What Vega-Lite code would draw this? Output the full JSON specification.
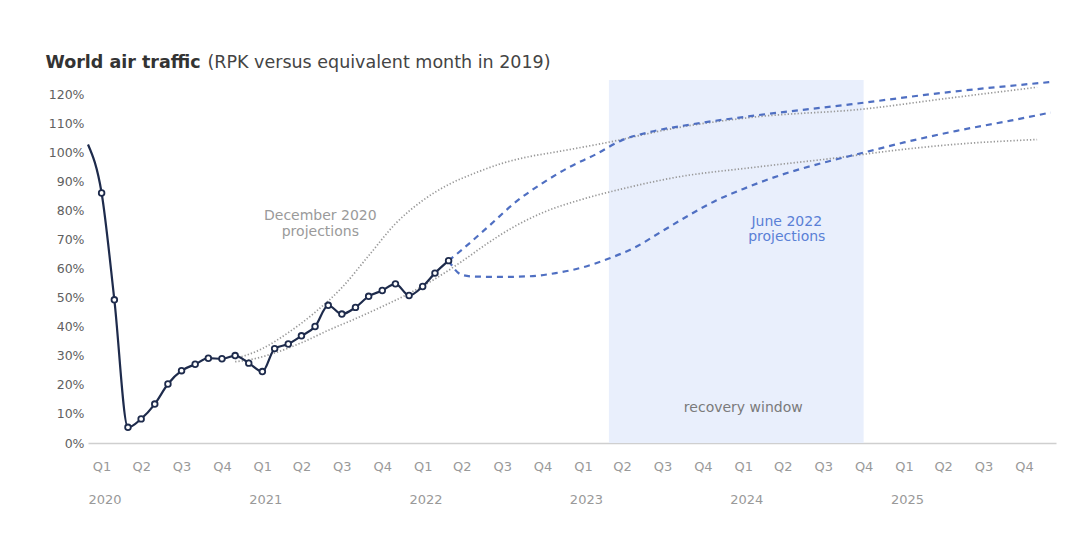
{
  "$schema": "https://vega.github.io/schema/vega-lite/v6.json",
  "width": 968,
  "height": 363,
  "autosize": {"type": "none"},
  "padding": {"left": 88, "top": 80, "right": 25, "bottom": 113},
  "background": "white",
  "config": {"view": {"stroke": null}, "font": "DejaVu Sans"},
  "datasets": {
    "series": [
      {"date": "2020-01-01", "value": 102.8, "series": "Actual"},
      {"date": "2020-02-01", "value": 86.1, "series": "Actual"},
      {"date": "2020-03-01", "value": 49.3, "series": "Actual"},
      {"date": "2020-04-01", "value": 5.4, "series": "Actual"},
      {"date": "2020-05-01", "value": 8.3, "series": "Actual"},
      {"date": "2020-06-01", "value": 13.4, "series": "Actual"},
      {"date": "2020-07-01", "value": 20.3, "series": "Actual"},
      {"date": "2020-08-01", "value": 24.9, "series": "Actual"},
      {"date": "2020-09-01", "value": 27.1, "series": "Actual"},
      {"date": "2020-10-01", "value": 29.2, "series": "Actual"},
      {"date": "2020-11-01", "value": 29.0, "series": "Actual"},
      {"date": "2020-12-01", "value": 30.1, "series": "Actual"},
      {"date": "2021-01-01", "value": 27.5, "series": "Actual"},
      {"date": "2021-02-01", "value": 24.6, "series": "Actual"},
      {"date": "2021-03-01", "value": 32.5, "series": "Actual"},
      {"date": "2021-04-01", "value": 34.1, "series": "Actual"},
      {"date": "2021-05-01", "value": 36.9, "series": "Actual"},
      {"date": "2021-06-01", "value": 40.1, "series": "Actual"},
      {"date": "2021-07-01", "value": 47.4, "series": "Actual"},
      {"date": "2021-08-01", "value": 44.4, "series": "Actual"},
      {"date": "2021-09-01", "value": 46.7, "series": "Actual"},
      {"date": "2021-10-01", "value": 50.5, "series": "Actual"},
      {"date": "2021-11-01", "value": 52.5, "series": "Actual"},
      {"date": "2021-12-01", "value": 54.8, "series": "Actual"},
      {"date": "2022-01-01", "value": 50.8, "series": "Actual"},
      {"date": "2022-02-01", "value": 53.9, "series": "Actual"},
      {"date": "2022-03-01", "value": 58.5, "series": "Actual"},
      {"date": "2022-04-01", "value": 62.8, "series": "Actual"},

      {"date": "2020-12-01", "value": 29.0, "series": "December 2020 high"},
      {"date": "2021-02-01", "value": 32.5, "series": "December 2020 high"},
      {"date": "2021-04-01", "value": 38.0, "series": "December 2020 high"},
      {"date": "2021-06-01", "value": 45.0, "series": "December 2020 high"},
      {"date": "2021-08-01", "value": 53.5, "series": "December 2020 high"},
      {"date": "2021-10-01", "value": 64.5, "series": "December 2020 high"},
      {"date": "2021-12-01", "value": 75.5, "series": "December 2020 high"},
      {"date": "2022-02-01", "value": 83.5, "series": "December 2020 high"},
      {"date": "2022-04-01", "value": 89.0, "series": "December 2020 high"},
      {"date": "2022-06-01", "value": 93.0, "series": "December 2020 high"},
      {"date": "2022-08-01", "value": 96.3, "series": "December 2020 high"},
      {"date": "2022-10-01", "value": 98.6, "series": "December 2020 high"},
      {"date": "2022-12-01", "value": 100.2, "series": "December 2020 high"},
      {"date": "2023-04-01", "value": 103.6, "series": "December 2020 high"},
      {"date": "2023-09-01", "value": 108.5, "series": "December 2020 high"},
      {"date": "2024-03-01", "value": 112.3, "series": "December 2020 high"},
      {"date": "2024-11-01", "value": 115.0, "series": "December 2020 high"},
      {"date": "2025-05-01", "value": 118.5, "series": "December 2020 high"},
      {"date": "2025-12-01", "value": 122.5, "series": "December 2020 high"},

      {"date": "2020-12-01", "value": 28.0, "series": "December 2020 low"},
      {"date": "2021-01-01", "value": 28.6, "series": "December 2020 low"},
      {"date": "2021-03-01", "value": 31.0, "series": "December 2020 low"},
      {"date": "2021-05-01", "value": 34.5, "series": "December 2020 low"},
      {"date": "2021-07-01", "value": 38.8, "series": "December 2020 low"},
      {"date": "2021-09-01", "value": 42.8, "series": "December 2020 low"},
      {"date": "2021-11-01", "value": 47.0, "series": "December 2020 low"},
      {"date": "2022-01-01", "value": 51.5, "series": "December 2020 low"},
      {"date": "2022-03-01", "value": 56.5, "series": "December 2020 low"},
      {"date": "2022-05-01", "value": 62.5, "series": "December 2020 low"},
      {"date": "2022-07-01", "value": 69.0, "series": "December 2020 low"},
      {"date": "2022-09-01", "value": 74.8, "series": "December 2020 low"},
      {"date": "2022-11-01", "value": 79.3, "series": "December 2020 low"},
      {"date": "2023-02-01", "value": 84.0, "series": "December 2020 low"},
      {"date": "2023-05-01", "value": 87.5, "series": "December 2020 low"},
      {"date": "2023-09-01", "value": 91.5, "series": "December 2020 low"},
      {"date": "2024-03-01", "value": 95.0, "series": "December 2020 low"},
      {"date": "2024-09-01", "value": 98.2, "series": "December 2020 low"},
      {"date": "2025-01-01", "value": 100.6, "series": "December 2020 low"},
      {"date": "2025-06-01", "value": 102.9, "series": "December 2020 low"},
      {"date": "2025-12-01", "value": 104.5, "series": "December 2020 low"},

      {"date": "2022-04-01", "value": 62.8, "series": "June 2022 high"},
      {"date": "2022-05-01", "value": 66.5, "series": "June 2022 high"},
      {"date": "2022-07-01", "value": 74.6, "series": "June 2022 high"},
      {"date": "2022-09-01", "value": 83.0, "series": "June 2022 high"},
      {"date": "2022-11-01", "value": 89.5, "series": "June 2022 high"},
      {"date": "2023-01-01", "value": 95.0, "series": "June 2022 high"},
      {"date": "2023-03-01", "value": 99.3, "series": "June 2022 high"},
      {"date": "2023-05-01", "value": 104.3, "series": "June 2022 high"},
      {"date": "2023-07-01", "value": 107.0, "series": "June 2022 high"},
      {"date": "2023-10-01", "value": 109.6, "series": "June 2022 high"},
      {"date": "2024-03-01", "value": 112.8, "series": "June 2022 high"},
      {"date": "2024-10-01", "value": 116.6, "series": "June 2022 high"},
      {"date": "2025-05-01", "value": 120.6, "series": "June 2022 high"},
      {"date": "2026-01-01", "value": 124.3, "series": "June 2022 high"},

      {"date": "2022-04-01", "value": 62.8, "series": "June 2022 low"},
      {"date": "2022-05-01", "value": 57.9, "series": "June 2022 low"},
      {"date": "2022-06-01", "value": 57.3, "series": "June 2022 low"},
      {"date": "2022-08-01", "value": 57.2, "series": "June 2022 low"},
      {"date": "2022-10-01", "value": 57.4, "series": "June 2022 low"},
      {"date": "2022-12-01", "value": 58.5, "series": "June 2022 low"},
      {"date": "2023-02-01", "value": 60.5, "series": "June 2022 low"},
      {"date": "2023-04-01", "value": 63.5, "series": "June 2022 low"},
      {"date": "2023-06-01", "value": 67.5, "series": "June 2022 low"},
      {"date": "2023-08-01", "value": 73.0, "series": "June 2022 low"},
      {"date": "2023-10-01", "value": 78.5, "series": "June 2022 low"},
      {"date": "2023-12-01", "value": 83.5, "series": "June 2022 low"},
      {"date": "2024-02-01", "value": 87.5, "series": "June 2022 low"},
      {"date": "2024-05-01", "value": 92.5, "series": "June 2022 low"},
      {"date": "2024-08-01", "value": 96.5, "series": "June 2022 low"},
      {"date": "2024-11-01", "value": 100.0, "series": "June 2022 low"},
      {"date": "2025-02-01", "value": 103.5, "series": "June 2022 low"},
      {"date": "2025-06-01", "value": 107.5, "series": "June 2022 low"},
      {"date": "2025-10-01", "value": 111.0, "series": "June 2022 low"},
      {"date": "2026-01-01", "value": 113.8, "series": "June 2022 low"}
    ],
    "window": [{"start": "2023-04-01", "end": "2024-11-01", "label": "recovery window"}],
    "notes": [
      {"date": "2021-06-13", "value": 78.2, "label": "December 2020\nprojections", "group": "December"},
      {"date": "2024-05-10", "value": 76.2, "label": "June 2022\nprojections", "group": "June"},
      {"date": "2024-02-01", "value": 12.2, "label": "recovery window", "group": "window"}
    ]
  },
  "encoding": {
    "x": {
      "field": "date", "type": "temporal",
      "scale": {"type": "utc", "domain": [{"year": 2020, "month": 1, "date": 1, "utc": true}, {"year": 2026, "month": 1, "date": 13, "utc": true}]},
      "axis": null
    },
    "y": {
      "field": "value", "type": "quantitative",
      "scale": {"domain": [0, 125], "nice": false, "zero": true},
      "axis": {
        "values": [0, 10, 20, 30, 40, 50, 60, 70, 80, 90, 100, 110, 120],
        "labelExpr": "datum.value + '%'",
        "domain": false, "ticks": false, "grid": false,
        "labelPadding": 4,
        "labelFont": "DejaVu Sans", "labelFontSize": 12.5, "labelColor": "#606060",
        "title": "World air traffic",
        "titleAngle": 0, "titleX": -43, "titleY": -13,
        "titleAlign": "left", "titleBaseline": "alphabetic",
        "titleFont": "DejaVu Sans", "titleFontSize": 17.5, "titleFontWeight": "bold", "titleColor": "#333333"
      }
    }
  },
  "layer": [
    {
      "data": {"name": "window"},
      "mark": {"type": "rect", "color": "#e9effc"},
      "encoding": {
        "x": {
          "field": "start", "type": "temporal",
          "scale": {"type": "utc", "domain": [{"year": 2020, "month": 1, "date": 1, "utc": true}, {"year": 2026, "month": 1, "date": 13, "utc": true}]},
          "axis": {
            "orient": "bottom",
            "values": [
              {"year": 2020, "month": 1, "date": 1, "utc": true},
              {"year": 2021, "month": 1, "date": 1, "utc": true},
              {"year": 2022, "month": 1, "date": 1, "utc": true},
              {"year": 2023, "month": 1, "date": 1, "utc": true},
              {"year": 2024, "month": 1, "date": 1, "utc": true},
              {"year": 2025, "month": 1, "date": 1, "utc": true}
            ],
            "labelExpr": "utcFormat(datum.value, '%Y')",
            "labelAlign": "left", "labelPadding": 50,
            "domain": false, "ticks": false, "grid": false,
            "labelFont": "DejaVu Sans", "labelFontSize": 13, "labelColor": "#999999",
            "labelFlush": false, "labelOverlap": false,
            "title": null
          }
        },
        "x2": {"field": "end"},
        "y": null
      }
    },
    {
      "mark": {"type": "rule", "color": "#9a9a9a", "strokeDash": [1.2, 2], "strokeWidth": 1.3},
      "encoding": {"y": {"datum": 100}}
    },
    {
      "data": {"name": "series"},
      "transform": [{"filter": "indexof(datum.series, 'December') === 0"}],
      "mark": {"type": "line", "color": "#999999", "strokeDash": [1.3, 2], "strokeWidth": 1.7, "interpolate": "monotone"},
      "encoding": {"detail": {"field": "series"}}
    },
    {
      "data": {"name": "series"},
      "transform": [{"filter": "indexof(datum.series, 'June') === 0"}],
      "mark": {"type": "line", "color": "#4f6fc2", "strokeDash": [6, 5], "strokeWidth": 2.2, "interpolate": "monotone"},
      "encoding": {"detail": {"field": "series"}}
    },
    {
      "data": {"name": "series"},
      "transform": [{"filter": "datum.series === 'Actual'"}],
      "mark": {"type": "line", "color": "#1e2b4c", "strokeWidth": 2.2, "interpolate": "monotone"},
      "encoding": {
        "x": {
          "field": "date", "type": "temporal",
          "scale": {"type": "utc", "domain": [{"year": 2020, "month": 1, "date": 1, "utc": true}, {"year": 2026, "month": 1, "date": 13, "utc": true}]},
          "axis": {
            "orient": "bottom",
            "values": [
              {"year": 2020, "month": 2, "date": 1, "utc": true}, {"year": 2020, "month": 5, "date": 1, "utc": true}, {"year": 2020, "month": 8, "date": 1, "utc": true}, {"year": 2020, "month": 11, "date": 1, "utc": true},
              {"year": 2021, "month": 2, "date": 1, "utc": true}, {"year": 2021, "month": 5, "date": 1, "utc": true}, {"year": 2021, "month": 8, "date": 1, "utc": true}, {"year": 2021, "month": 11, "date": 1, "utc": true},
              {"year": 2022, "month": 2, "date": 1, "utc": true}, {"year": 2022, "month": 5, "date": 1, "utc": true}, {"year": 2022, "month": 8, "date": 1, "utc": true}, {"year": 2022, "month": 11, "date": 1, "utc": true},
              {"year": 2023, "month": 2, "date": 1, "utc": true}, {"year": 2023, "month": 5, "date": 1, "utc": true}, {"year": 2023, "month": 8, "date": 1, "utc": true}, {"year": 2023, "month": 11, "date": 1, "utc": true},
              {"year": 2024, "month": 2, "date": 1, "utc": true}, {"year": 2024, "month": 5, "date": 1, "utc": true}, {"year": 2024, "month": 8, "date": 1, "utc": true}, {"year": 2024, "month": 11, "date": 1, "utc": true},
              {"year": 2025, "month": 2, "date": 1, "utc": true}, {"year": 2025, "month": 5, "date": 1, "utc": true}, {"year": 2025, "month": 8, "date": 1, "utc": true}, {"year": 2025, "month": 11, "date": 1, "utc": true}
            ],
            "labelExpr": "'Q' + utcquarter(datum.value)",
            "labelPadding": 17,
            "grid": false, "ticks": false,
            "domain": true, "domainColor": "#cfcfcf", "domainWidth": 1.6,
            "labelFont": "DejaVu Sans", "labelFontSize": 13, "labelColor": "#999999",
            "labelFlush": false, "labelOverlap": false,
            "title": "(RPK versus equivalent month in 2019)",
            "titleAngle": 0, "titleX": 119, "titleY": -376,
            "titleAlign": "left", "titleBaseline": "alphabetic",
            "titleFont": "DejaVu Sans", "titleFontSize": 17.5, "titleFontWeight": "normal", "titleColor": "#444444"
          }
        }
      }
    },
    {
      "data": {"name": "series"},
      "transform": [{"filter": "datum.series === 'Actual' && datum.value < 100"}],
      "mark": {"type": "point", "shape": "circle", "filled": true, "fill": "white", "stroke": "#1e2b4c", "strokeWidth": 1.8, "size": 32, "opacity": 1}
    },
    {
      "data": {"name": "notes"},
      "transform": [{"filter": "datum.group === 'December'"}],
      "mark": {"type": "text", "align": "center", "baseline": "middle", "lineBreak": "\n", "lineHeight": 16, "font": "DejaVu Sans", "fontSize": 14, "color": "#9a9a9a"},
      "encoding": {"text": {"field": "label"}}
    },
    {
      "data": {"name": "notes"},
      "transform": [{"filter": "datum.group === 'June'"}],
      "mark": {"type": "text", "align": "center", "baseline": "middle", "lineBreak": "\n", "lineHeight": 15, "font": "DejaVu Sans", "fontSize": 14, "color": "#5a80d6"},
      "encoding": {"text": {"field": "label"}}
    },
    {
      "data": {"name": "notes"},
      "transform": [{"filter": "datum.group === 'window'"}],
      "mark": {"type": "text", "align": "center", "baseline": "middle", "font": "DejaVu Sans", "fontSize": 14, "color": "#7a7a7a"},
      "encoding": {"text": {"field": "label"}}
    }
  ],
  "resolve": {"axis": {"x": "independent"}}
}
